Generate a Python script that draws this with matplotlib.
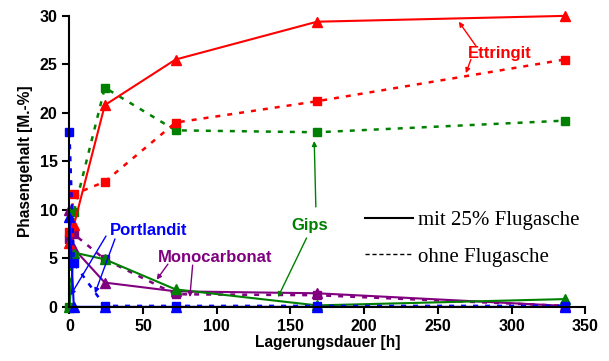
import matplotlib
matplotlib.use("Agg")
import matplotlib.pyplot as plt
from matplotlib.lines import Line2D

# Lagerungsdauer in Stunden
zeit = [0, 3, 24, 72, 168, 336]

# Phasengehalt [M.-%], mit 25% Flugasche (durchgezogen, Dreiecke)
ettringit_mit = [6.6, 8.4, 20.8, 25.5, 29.4, 30.0]
gips_mit = [0.0, 5.6, 4.9, 1.8, 0.15, 0.8]
mono_mit = [10.0, 6.0, 2.5, 1.6, 1.4, 0.1]
portlandit_mit = [9.3, 0.0, 0.0, 0.0, 0.0, 0.0]

# Phasengehalt [M.-%], ohne Flugasche (gestrichelt, Quadrate)
ettringit_ohne = [7.7, 11.6, 12.9, 19.0, 21.2, 25.5]
gips_ohne = [0.0, 9.8, 22.6, 18.2, 18.0, 19.2]
mono_ohne = [7.0, 7.5, 4.9, 1.3, 1.2, 0.1]
portlandit_ohne = [18.0, 4.5, 0.1, 0.1, 0.1, 0.1]

rot = "#ff0000"
gruen = "#008000"
lila = "#800080"
blau = "#0000ff"

plt.rcParams["font.family"] = ["Liberation Sans", "DejaVu Sans"]

fig = plt.figure(figsize=(6.09, 3.61), dpi=100)
ax = fig.add_axes([0.114, 0.150, 0.847, 0.806])

punkt = (0, (2, 2.8))

def reihe(werte, farbe, mit):
    # mit Flugasche: Linie + Dreieck, ohne: gestrichelt + Quadrat
    if mit:
        ax.plot(zeit, werte, color=farbe, lw=1.5, marker="^", ms=6.5, clip_on=False)
    else:
        ax.plot(zeit, werte, color=farbe, lw=1.8, ls=punkt, marker="s", ms=6, clip_on=False)

reihe(mono_ohne, lila, False)
reihe(mono_mit, lila, True)
reihe(gips_ohne, gruen, False)
reihe(gips_mit, gruen, True)
reihe(ettringit_ohne, rot, False)
reihe(ettringit_mit, rot, True)
reihe(portlandit_ohne, blau, False)
reihe(portlandit_mit, blau, True)

ax.set_xlim(0, 350)
ax.set_ylim(0, 30)
ax.set_xticks(range(0, 351, 50))
ax.set_yticks(range(0, 31, 5))
ax.spines["top"].set_visible(False)
ax.spines["right"].set_visible(False)
ax.spines["left"].set_linewidth(1.5)
ax.spines["bottom"].set_linewidth(1.5)
ax.tick_params(direction="out", length=5, width=1.5, labelsize=11.5)
for lab in ax.get_xticklabels() + ax.get_yticklabels():
    lab.set_fontweight("bold")

ax.set_xlabel("Lagerungsdauer [h]", fontsize=11.2, fontweight="bold", labelpad=1)
ax.set_ylabel("Phasengehalt [M.-%]", fontsize=11.2, fontweight="bold", labelpad=5)

# Beschriftungen mit Pfeilen
pfeil = dict(arrowstyle="-|>", lw=1.0, mutation_scale=7, shrinkA=0, shrinkB=0)

def schild(text, farbe, pos, ziele):
    ax.text(pos[0], pos[1], text, color=farbe, fontsize=12, fontweight="bold",
            ha="center", va="center")
    for start, ziel in ziele:
        ax.annotate("", xy=ziel, xytext=start,
                    arrowprops=dict(pfeil, color=farbe))

schild("Ettringit", rot, (292, 26.1),
       [((275.8, 26.9), (264.2, 29.4)), ((272.4, 25.5), (269.0, 24.1))])
schild("Portlandit", blau, (54, 7.9),
       [((24.8, 7.3), (0.8, 1.2)), ((30.9, 7.0), (17.3, 1.4))])
schild("Monocarbonat", lila, (99, 5.1),
       [((66.8, 4.4), (59.2, 2.8)), ((83.6, 4.3), (81.7, 1.0))])
schild("Gips", gruen, (163, 8.4),
       [((167.2, 10.3), (166.1, 17.1)), ((160.9, 7.1), (141.5, 1.0))])

# Legende fuer die Linienarten
griffe = [Line2D([], [], color="black", lw=1.5),
          Line2D([], [], color="black", lw=1.0, ls=(0, (3, 2)))]
ax.legend(griffe, ["mit 25% Flugasche", "ohne Flugasche"], loc="upper left",
          bbox_to_anchor=(0.537, 0.395), frameon=False, handlelength=2.3,
          handletextpad=0.25, labelspacing=0.8,
          prop={"family": "Liberation Serif", "size": 15})

fig.savefig("out.png", dpi=100)
